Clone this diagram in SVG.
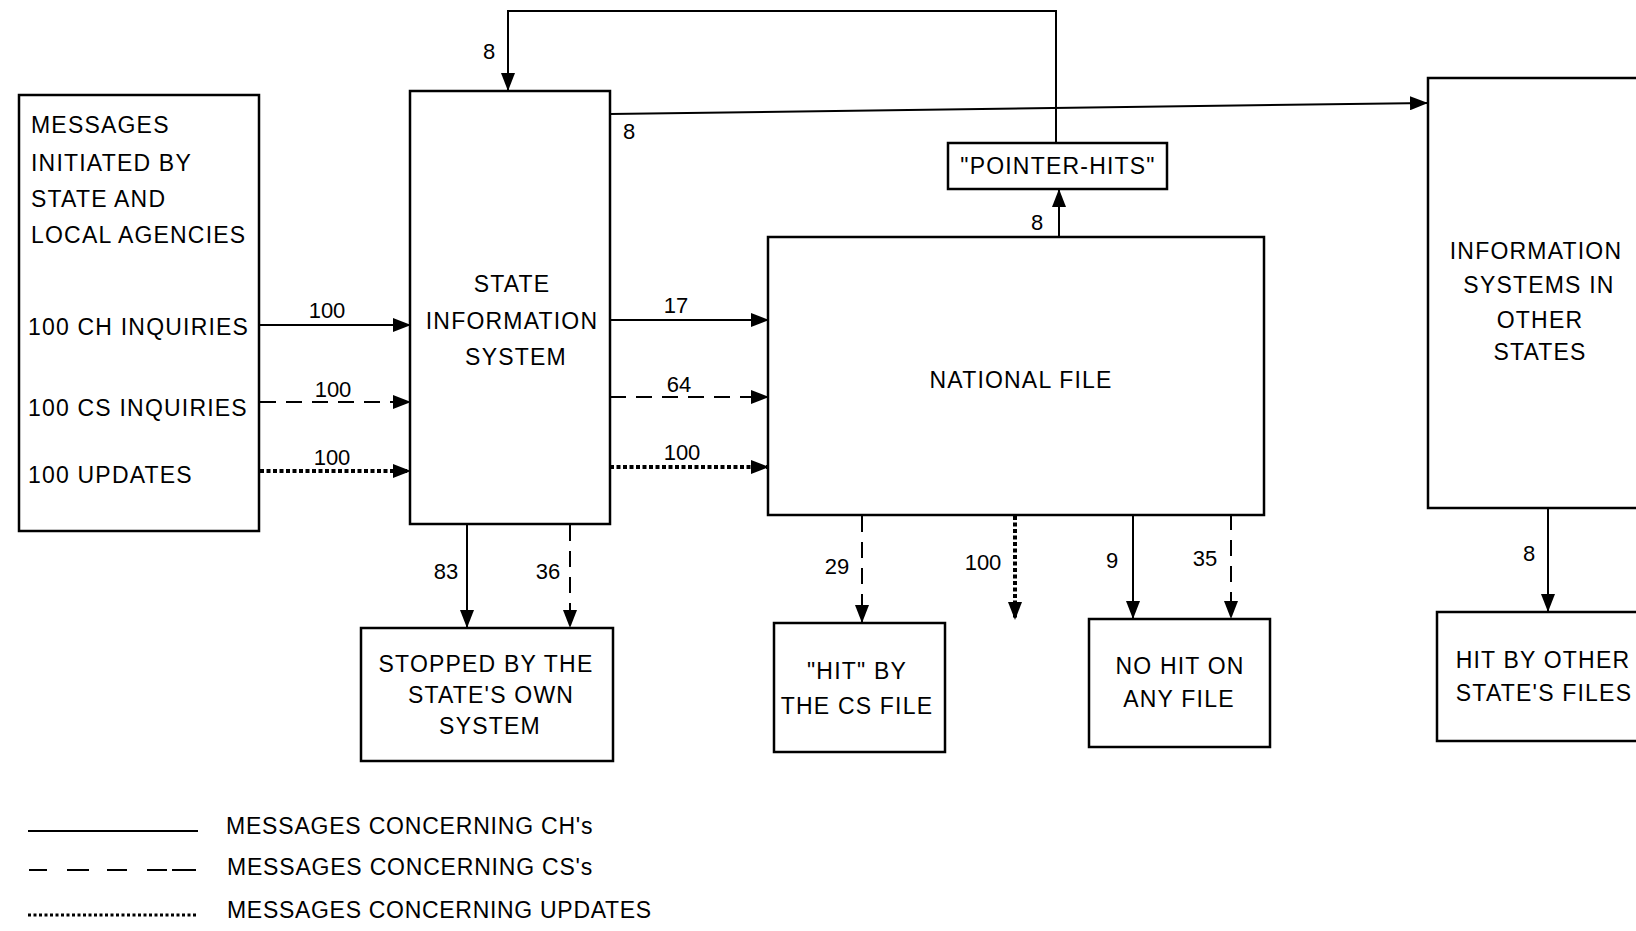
<svg xmlns="http://www.w3.org/2000/svg" width="1636" height="931" viewBox="0 0 1636 931">
<style>
.box{fill:#fff;stroke:#000;stroke-width:2.5}
.t{font-family:"Liberation Sans",Arial,sans-serif;font-size:23px;fill:#000;letter-spacing:1.2px}
.c{text-anchor:middle}
.n{font-family:"Liberation Sans",Arial,sans-serif;font-size:22px;fill:#000}
.ch{fill:none;stroke:#000;stroke-width:2}
.cs{fill:none;stroke:#000;stroke-width:2;stroke-dasharray:16 10}
.up{fill:none;stroke:#000;stroke-width:4;stroke-dasharray:4 2.5}
</style>
<defs>
<marker id="ah" markerUnits="userSpaceOnUse" markerWidth="18" markerHeight="14" refX="18" refY="7" orient="auto">
<path d="M0,0 L18,7 L0,14 z" fill="#000"/>
</marker>
</defs>
<rect width="1636" height="931" fill="#fff"/>

<g id="connectors">
<path class="ch" d="M260,325 H411" marker-end="url(#ah)"/>
<path class="cs" d="M260,402 H411" marker-end="url(#ah)"/>
<path class="up" d="M260,471 H411" marker-end="url(#ah)"/>
<path class="ch" d="M610,320 H769" marker-end="url(#ah)"/>
<path class="cs" d="M610,397 H769" marker-end="url(#ah)"/>
<path class="up" d="M610,467 H769" marker-end="url(#ah)"/>
<path class="ch" d="M467,525 V628" marker-end="url(#ah)"/>
<path class="cs" d="M570,525 V628" marker-end="url(#ah)"/>
<path class="cs" d="M862,516 V623" marker-end="url(#ah)"/>
<path class="up" d="M1015,516 V620" marker-end="url(#ah)"/>
<path class="ch" d="M1133,514 V619" marker-end="url(#ah)"/>
<path class="cs" d="M1231,514 V619" marker-end="url(#ah)"/>
<path class="ch" d="M1059,237 V189" marker-end="url(#ah)"/>
<path class="ch" d="M1056,143 V11 H508 V91" marker-end="url(#ah)"/>
<path class="ch" d="M610,114 L1428,103" marker-end="url(#ah)"/>
<path class="ch" d="M1548,508 V612" marker-end="url(#ah)"/>
</g>

<g id="labels">
<text class="n" x="327" y="318" text-anchor="middle">100</text>
<text class="n" x="333" y="397" text-anchor="middle">100</text>
<text class="n" x="332" y="465" text-anchor="middle">100</text>
<text class="n" x="676" y="313" text-anchor="middle">17</text>
<text class="n" x="679" y="392" text-anchor="middle">64</text>
<text class="n" x="682" y="460" text-anchor="middle">100</text>
<text class="n" x="446" y="579" text-anchor="middle">83</text>
<text class="n" x="548" y="579" text-anchor="middle">36</text>
<text class="n" x="837" y="574" text-anchor="middle">29</text>
<text class="n" x="983" y="570" text-anchor="middle">100</text>
<text class="n" x="1112" y="568" text-anchor="middle">9</text>
<text class="n" x="1205" y="566" text-anchor="middle">35</text>
<text class="n" x="1037" y="230" text-anchor="middle">8</text>
<text class="n" x="489" y="59" text-anchor="middle">8</text>
<text class="n" x="629" y="139" text-anchor="middle">8</text>
<text class="n" x="1529" y="561" text-anchor="middle">8</text>
</g>

<g id="source">
<rect class="box" x="19" y="95" width="240" height="436"/>
<text class="t" x="31" y="133">MESSAGES</text>
<text class="t" x="31" y="171">INITIATED BY</text>
<text class="t" x="31" y="207">STATE AND</text>
<text class="t" x="31" y="243">LOCAL AGENCIES</text>
<text class="t" x="28" y="335">100 CH INQUIRIES</text>
<text class="t" x="28" y="416">100 CS INQUIRIES</text>
<text class="t" x="28" y="483">100 UPDATES</text>
</g>

<g id="state">
<rect class="box" x="410" y="91" width="200" height="433"/>
<text class="t c" x="512" y="292">STATE</text>
<text class="t c" x="512" y="329">INFORMATION</text>
<text class="t c" x="516" y="365">SYSTEM</text>
</g>

<g id="pointer">
<rect class="box" x="948" y="143" width="219" height="46"/>
<text class="t c" x="1058" y="174">"POINTER-HITS"</text>
</g>

<g id="national">
<rect class="box" x="768" y="237" width="496" height="278"/>
<text class="t c" x="1021" y="388">NATIONAL FILE</text>
</g>

<g id="other">
<rect class="box" x="1428" y="78" width="230" height="430"/>
<text class="t c" x="1536" y="259">INFORMATION</text>
<text class="t c" x="1539" y="293">SYSTEMS IN</text>
<text class="t c" x="1540" y="328">OTHER</text>
<text class="t c" x="1540" y="360">STATES</text>
</g>

<g id="stopped">
<rect class="box" x="361" y="628" width="252" height="133"/>
<text class="t c" x="486" y="672">STOPPED BY THE</text>
<text class="t c" x="491" y="703">STATE'S OWN</text>
<text class="t c" x="490" y="734">SYSTEM</text>
</g>

<g id="hitcs">
<rect class="box" x="774" y="623" width="171" height="129"/>
<text class="t c" x="857" y="679">"HIT" BY</text>
<text class="t c" x="857" y="714">THE CS FILE</text>
</g>

<g id="nohit">
<rect class="box" x="1089" y="619" width="181" height="128"/>
<text class="t c" x="1180" y="674">NO HIT ON</text>
<text class="t c" x="1179" y="707">ANY FILE</text>
</g>

<g id="hitother">
<rect class="box" x="1437" y="612" width="220" height="129"/>
<text class="t c" x="1543" y="668">HIT BY OTHER</text>
<text class="t c" x="1544" y="701">STATE'S FILES</text>
</g>

<g id="legend">
<path class="ch" d="M28,831 H198"/>
<path class="ch" d="M29,870 H47 M67,870 H89 M107,870 H127 M147,870 H167 M172,870 H196"/>
<path class="up" d="M28,915 H198" style="stroke-width:3;stroke-dasharray:3 2.5"/>
<text class="t" x="226" y="834" style="letter-spacing:0.8px">MESSAGES CONCERNING CH's</text>
<text class="t" x="227" y="875" style="letter-spacing:0.8px">MESSAGES CONCERNING CS's</text>
<text class="t" x="227" y="918" style="letter-spacing:0.7px">MESSAGES CONCERNING UPDATES</text>
</g>
</svg>
